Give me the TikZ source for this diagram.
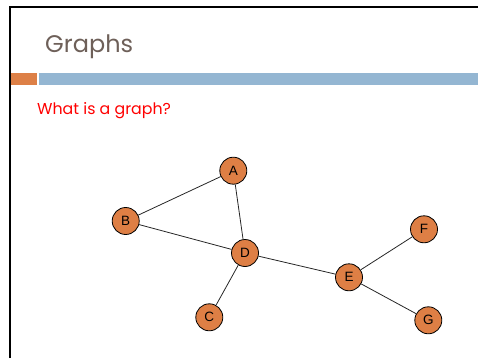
\documentclass[tikz,border=0pt]{standalone}
\usepackage{fontspec}
\setmainfont{Liberation Sans}
\newfontfamily\slidefont{Poppins}
\definecolor{titlegray}{HTML}{6E6059}
\definecolor{accentorange}{HTML}{DD8047}
\definecolor{barblue}{HTML}{94B6D2}
\definecolor{nodeorange}{HTML}{DE7F45}
\begin{document}
\begin{tikzpicture}[x=1pt,y=-1pt,
  vertex/.style={circle,draw=black,line width=0.8pt,fill=nodeorange,
    minimum size=27pt,inner sep=0pt,font=\fontsize{13.5}{13.5}\selectfont},
  edge/.style={draw=black!85,line width=0.8pt}]
\useasboundingbox (0,0) rectangle (478,358);
% slide frame
\draw[line width=2.6pt] (10,358) -- (10,7) -- (478,7);
% header bars
\fill[accentorange] (11,73) rectangle (36.7,85);
\fill[barblue] (39,73) rectangle (478,85);
% title and subtitle
\node[anchor=base west,inner sep=0pt,text=titlegray,font=\slidefont\fontsize{24}{24}\selectfont] (title) at (45,53) {Graphs};
\node[anchor=base west,inner sep=0pt,text=red,font=\slidefont\fontsize{15.8}{15.8}\selectfont] (question) at (37,115) {What is a graph?};
% graph vertices
\node[vertex] (A) at (233.3,170.7) {A};
\node[vertex] (B) at (125.7,221) {B};
\node[vertex] (D) at (245,253) {D};
\node[vertex] (C) at (209.3,317.3) {C};
\node[vertex] (E) at (349,277.3) {E};
\node[vertex] (F) at (424,229.3) {F};
\node[vertex] (G) at (428.3,320.3) {G};
% graph edges
\path[edge] (A) -- (B);
\path[edge] (A) -- (D);
\path[edge] (B) -- (D);
\path[edge] (D) -- (C);
\path[edge] (D) -- (E);
\path[edge] (E) -- (F);
\path[edge] (E) -- (G);
\end{tikzpicture}
\end{document}
